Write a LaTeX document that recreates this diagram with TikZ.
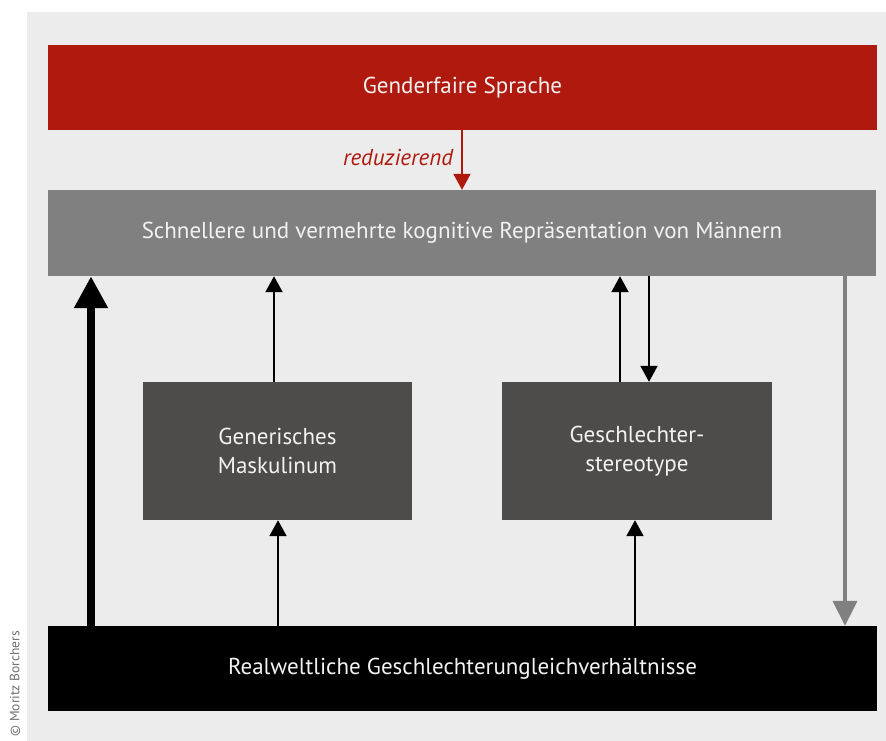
\documentclass[tikz,border=0pt]{standalone}
\usepackage{fontspec}
\setmainfont{PT Sans}
\usetikzlibrary{arrows.meta}
\definecolor{bgc}{HTML}{ECECEC}
\definecolor{redc}{HTML}{B01A0E}
\definecolor{grayc}{HTML}{808080}
\definecolor{darkc}{HTML}{4D4C4B}
\definecolor{txtc}{HTML}{F2F2F2}
\definecolor{copyc}{HTML}{707070}
\tikzset{
  box/.style={rectangle, draw=none, inner sep=0pt, text=txtc, align=center,
    font=\fontsize{23}{29}\selectfont},
  thinarrow/.style={line width=2pt, -{Triangle[length=16pt,width=17pt]}},
  thickarrow/.style={line width=8pt, -{Triangle[length=32pt,width=32pt]}},
  grayarrow/.style={line width=4pt, grayc, -{Triangle[length=25pt,width=24pt]}},
  redarrow/.style={line width=2pt, redc, -{Triangle[length=16pt,width=17pt]}},
}
\begin{document}
\begin{tikzpicture}[x=1pt,y=-1pt]
\useasboundingbox (0,0) rectangle (886,741);
\fill[white] (0,0) rectangle (886,741);
\fill[bgc] (27,12) rectangle (886,741);
\node[rotate=90, anchor=east, text=copyc, inner sep=0pt, font=\fontsize{13.5}{15}\selectfont] (copy) at (15,631) {© Moritz Borchers};

\node[box, fill=redc, minimum width=829pt, minimum height=85pt] (red) at (462.5,87.5) {Genderfaire Sprache};
\node[box, fill=grayc, minimum width=828pt, minimum height=86pt] (gray) at (462,233) {Schnellere und vermehrte kognitive Repräsentation von Männern};
\node[box, fill=darkc, minimum width=269pt, minimum height=138pt] (gen) at (277.5,451) {Generisches\\Maskulinum};
\node[box, fill=darkc, minimum width=270pt, minimum height=138pt] (ster) at (637,451) {Geschlechter-\\stereotype};
\node[box, fill=black, minimum width=829pt, minimum height=85pt] (real) at (462.5,668.5) {Realweltliche Geschlechterungleichverhältnisse};

\draw[redarrow] (red.south -| 462,0) -- (gray.north -| 462,0)
  node[pos=0.45, anchor=east, xshift=-8pt, inner sep=0pt, text=redc, font=\fontsize{23}{26}\selectfont\itshape] (lab) {reduzierend};

\draw[thickarrow] (real.north -| 91,0) -- (gray.south -| 91,0);
\draw[grayarrow] (gray.south -| 845,0) -- (real.north -| 845,0);
\draw[thinarrow] (gen.north -| 274,0) -- (gray.south -| 274,0);
\draw[thinarrow] (ster.north -| 620,0) -- (gray.south -| 620,0);
\draw[thinarrow] (gray.south -| 649,0) -- (ster.north -| 649,0);
\draw[thinarrow] (real.north -| 278,0) -- (gen.south -| 278,0);
\draw[thinarrow] (real.north -| 635,0) -- (ster.south -| 635,0);
\end{tikzpicture}
\end{document}
